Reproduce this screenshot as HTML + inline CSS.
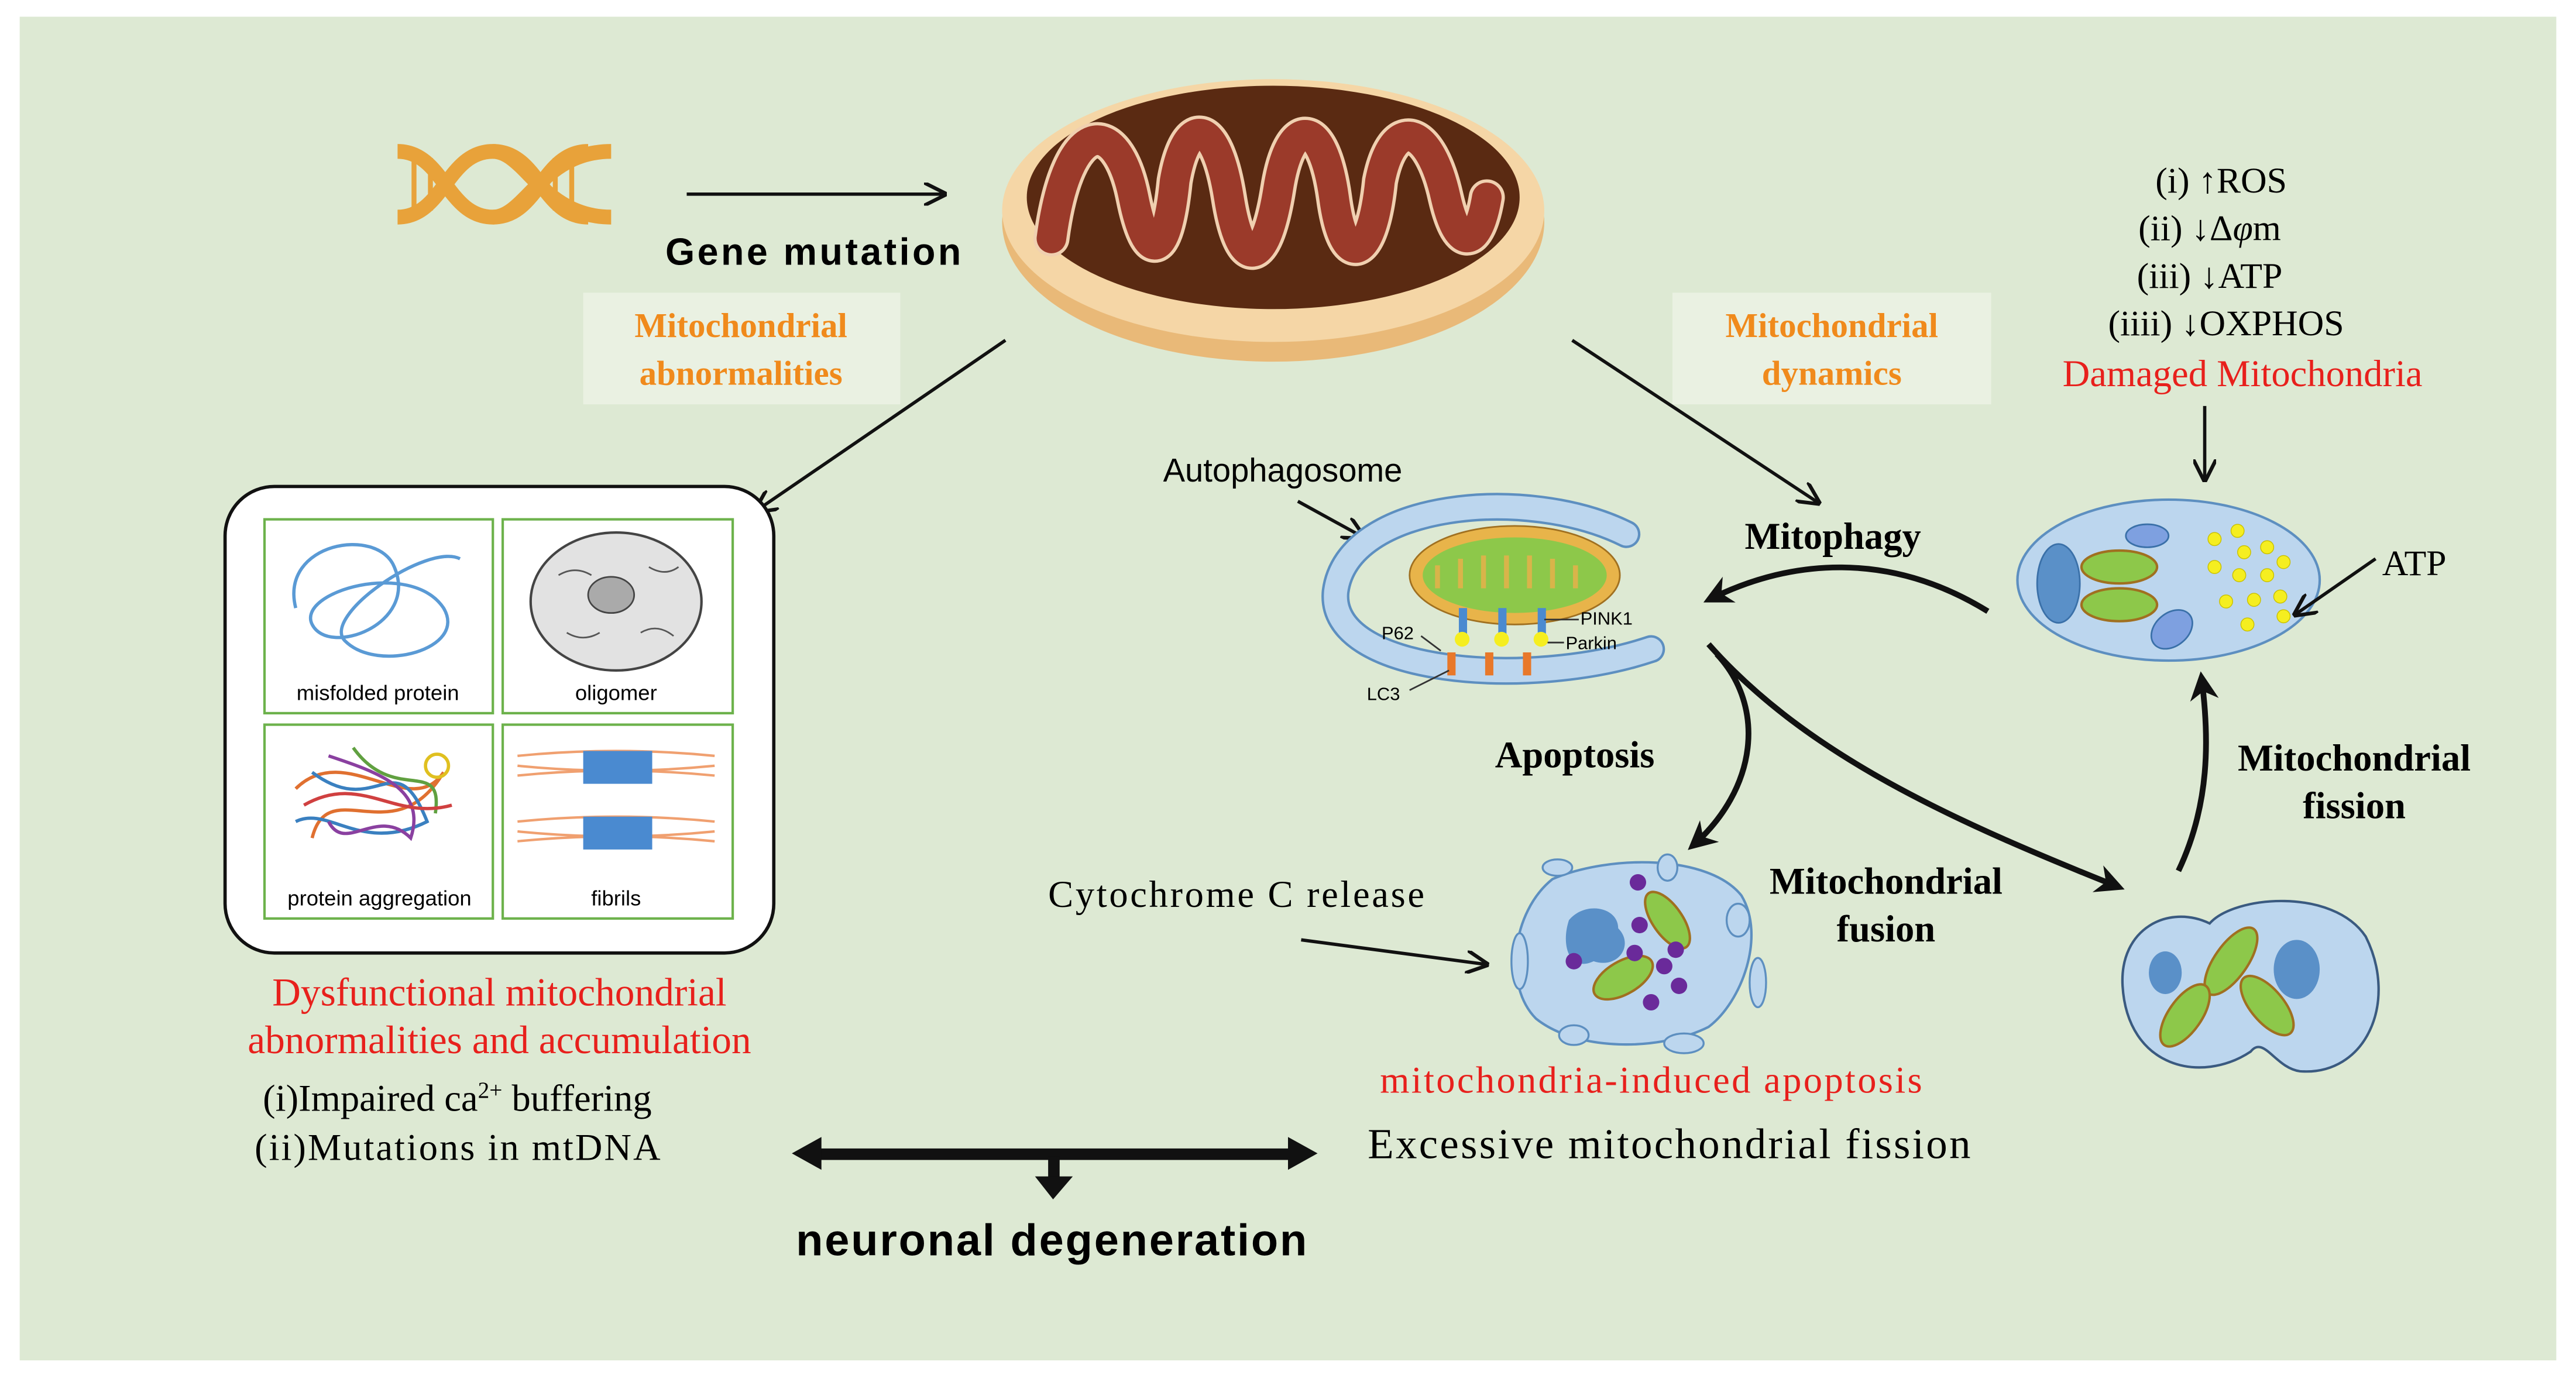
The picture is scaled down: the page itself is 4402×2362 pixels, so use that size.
<!DOCTYPE html>
<html><head><meta charset="utf-8"><style>
html,body{margin:0;padding:0;background:#fff;}
svg{display:block;}
.b{font-family:"Liberation Serif",serif;font-weight:bold;}
.s{font-family:"Liberation Serif",serif;}
.a{font-family:"Liberation Sans",sans-serif;}
</style></head><body>
<svg width="4402" height="2362" viewBox="0 0 1568 841" xmlns="http://www.w3.org/2000/svg">
<defs>
<marker id="ar" viewBox="0 0 10 10" refX="9" refY="5" markerWidth="7" markerHeight="7" orient="auto-start-reverse"><path d="M0,0 L10,5 L0,10" fill="none" stroke="#111" stroke-width="1.6"/></marker>
<marker id="af" viewBox="0 0 10 10" refX="8" refY="5" markerWidth="5" markerHeight="5" orient="auto"><path d="M0,0 L10,5 L0,10 L3,5z" fill="#111"/></marker>
</defs>
<rect width="1568" height="841" fill="#fff"/>
<rect x="12" y="10" width="1544" height="818" fill="#dde9d3"/>

<!-- DNA -->
<g stroke="#e8a23a" stroke-width="9" fill="none">
<path d="M242,92 C270,92 272,132 300,132 C328,132 330,92 358,92"/>
<path d="M242,132 C270,132 272,92 300,92 C328,92 330,132 358,132"/>
<path d="M300,92 C320,92 330,132 372,132 M300,132 C320,132 330,92 372,92"/>
</g>
<g stroke="#e8a23a" stroke-width="3"><line x1="252" y1="98" x2="252" y2="126"/><line x1="262" y1="96" x2="262" y2="128"/><line x1="338" y1="96" x2="338" y2="128"/><line x1="348" y1="98" x2="348" y2="126"/></g>
<line x1="418" y1="118" x2="575" y2="118" stroke="#111" stroke-width="2" marker-end="url(#ar)"/>
<text x="405" y="161" class="a" font-size="23" font-weight="bold" textLength="180">Gene mutation</text>

<!-- Big mitochondrion -->
<ellipse cx="775" cy="135" rx="165" ry="85" fill="#e9b978"/>
<ellipse cx="775" cy="128" rx="165" ry="80" fill="#f5d6a6"/>
<ellipse cx="775" cy="120" rx="150" ry="68" fill="#5a2a12"/>
<path d="M640,145 C650,70 680,70 690,120 C698,160 710,160 715,110 C722,70 740,70 748,120 C755,165 770,165 778,115 C785,70 805,70 812,120 C818,165 835,160 840,110 C848,70 870,75 880,120 C888,155 900,150 905,120" fill="none" stroke="#f0d0b0" stroke-width="22" stroke-linecap="round"/>
<path d="M640,145 C650,70 680,70 690,120 C698,160 710,160 715,110 C722,70 740,70 748,120 C755,165 770,165 778,115 C785,70 805,70 812,120 C818,165 835,160 840,110 C848,70 870,75 880,120 C888,155 900,150 905,120" fill="none" stroke="#9b3a2a" stroke-width="18" stroke-linecap="round"/>

<!-- Label boxes -->
<rect x="355" y="178" width="193" height="68" fill="#eaf1e2"/>
<text x="451" y="205" class="b" font-size="21" fill="#f08a1c" text-anchor="middle">Mitochondrial</text>
<text x="451" y="234" class="b" font-size="21" fill="#f08a1c" text-anchor="middle">abnormalities</text>
<rect x="1018" y="178" width="194" height="68" fill="#eaf1e2"/>
<text x="1115" y="205" class="b" font-size="21" fill="#f08a1c" text-anchor="middle">Mitochondrial</text>
<text x="1115" y="234" class="b" font-size="21" fill="#f08a1c" text-anchor="middle">dynamics</text>

<line x1="612" y1="207" x2="460" y2="311" stroke="#111" stroke-width="2" marker-end="url(#ar)"/>
<line x1="957" y1="207" x2="1107" y2="306" stroke="#111" stroke-width="2" marker-end="url(#ar)"/>

<!-- right list -->
<g class="s" font-size="22" text-anchor="middle">
<text x="1352" y="117">(i) ↑ROS</text>
<text x="1345" y="146">(ii) ↓Δ<tspan font-style="italic">φ</tspan>m</text>
<text x="1345" y="175">(iii) ↓ATP</text>
<text x="1355" y="204">(iiii) ↓OXPHOS</text>
<text x="1365" y="235" fill="#e8201c" font-size="23">Damaged Mitochondria</text>
</g>
<line x1="1342" y1="247" x2="1342" y2="292" stroke="#111" stroke-width="2" marker-end="url(#ar)"/>

<!-- Left box -->
<rect x="137" y="296" width="334" height="284" rx="30" fill="#fff" stroke="#111" stroke-width="2"/>
<g fill="none" stroke="#6db24c" stroke-width="1.5">
<rect x="161" y="316" width="139" height="118"/><rect x="306" y="316" width="140" height="118"/>
<rect x="161" y="441" width="139" height="118"/><rect x="306" y="441" width="140" height="118"/>
</g>
<path d="M180,370 C170,330 230,320 240,345 C255,380 200,400 190,380 C180,360 250,340 270,370 C285,395 230,410 210,390 C195,375 260,330 280,340" fill="none" stroke="#5a9ad5" stroke-width="2"/>
<ellipse cx="375" cy="366" rx="52" ry="42" fill="#e2e2e2" stroke="#444" stroke-width="1.5"/>
<ellipse cx="372" cy="362" rx="14" ry="11" fill="#aaa" stroke="#444"/>
<g fill="none" stroke="#555" stroke-width="1"><path d="M340,350 q10,-6 20,0"/><path d="M395,345 q10,6 18,0"/><path d="M345,385 q10,6 20,0"/><path d="M390,385 q10,-6 20,2"/></g>
<g fill="none" stroke-width="2">
<path d="M180,480 C210,450 250,500 270,470 C240,520 200,470 190,510" stroke="#e07030"/>
<path d="M190,470 C230,500 240,450 260,500 C220,520 200,490 180,500" stroke="#3a80c0"/>
<path d="M200,460 C230,470 260,480 250,510 C230,490 210,520 200,500" stroke="#8a40a0"/>
<path d="M215,455 C240,490 270,460 265,495" stroke="#60a040"/>
<path d="M185,490 C220,470 240,500 275,490" stroke="#d04040"/>
<circle cx="266" cy="466" r="7" stroke="#e0c020"/>
</g>
<g stroke="#f0a070" stroke-width="1.5" fill="none">
<path d="M315,460 q60,-6 120,0"/><path d="M315,466 q60,6 120,0"/><path d="M315,472 q60,-6 120,0"/>
<path d="M315,500 q60,-6 120,0"/><path d="M315,506 q60,6 120,0"/><path d="M315,512 q60,-6 120,0"/>
</g>
<rect x="355" y="457" width="42" height="20" fill="#4a8ad0"/><rect x="355" y="497" width="42" height="20" fill="#4a8ad0"/>
<g class="a" font-size="13" text-anchor="middle">
<text x="230" y="426">misfolded protein</text><text x="375" y="426">oligomer</text>
<text x="231" y="551">protein aggregation</text><text x="375" y="551">fibrils</text>
</g>

<text x="304" y="612" class="s" font-size="24" fill="#e8201c" text-anchor="middle">Dysfunctional mitochondrial</text>
<text x="304" y="641" class="s" font-size="24" fill="#e8201c" text-anchor="middle">abnormalities and accumulation</text>
<text x="160" y="676" class="s" font-size="23">(i)Impaired ca<tspan font-size="14" dy="-8">2+</tspan><tspan dy="8"> buffering</tspan></text>
<text x="155" y="706" class="s" font-size="23" textLength="247">(ii)Mutations in mtDNA</text>

<!-- double arrow -->
<rect x="496" y="699" width="292" height="7" fill="#111"/>
<path d="M482,702 L500,692 L500,712z M802,702 L784,692 L784,712z" fill="#111"/>
<rect x="638" y="704" width="7" height="16" fill="#111"/>
<path d="M630,716 L653,716 L641,730z" fill="#111"/>
<text x="640" y="764" class="a" font-size="27" font-weight="bold" text-anchor="middle" textLength="311">neuronal degeneration</text>

<!-- autophagosome -->
<text x="708" y="293" class="a" font-size="20">Autophagosome</text>
<line x1="790" y1="305" x2="830" y2="327" stroke="#111" stroke-width="2" marker-end="url(#ar)"/>
<path d="M990,325 C930,295 820,305 813,360 C808,410 930,420 1005,395" fill="none" stroke="#5d8fc0" stroke-width="17" stroke-linecap="round"/>
<path d="M990,325 C930,295 820,305 813,360 C808,410 930,420 1005,395" fill="none" stroke="#bcd6ee" stroke-width="14" stroke-linecap="round"/>
<ellipse cx="922" cy="350" rx="64" ry="30" fill="#e8b44a" stroke="#a07020"/>
<ellipse cx="922" cy="350" rx="56" ry="23" fill="#8dc84a"/>
<path d="M875,358 v-14 m14,14 v-18 m14,18 v-20 m14,20 v-20 m14,20 v-20 m14,20 v-18 m14,18 v-14" stroke="#d9b44a" stroke-width="3"/>
<g fill="#4a8ad0"><rect x="888" y="370" width="5" height="16"/><rect x="912" y="370" width="5" height="16"/><rect x="936" y="370" width="5" height="16"/></g>
<g fill="#f5ee20"><circle cx="890" cy="389" r="4.5"/><circle cx="914" cy="389" r="4.5"/><circle cx="938" cy="389" r="4.5"/></g>
<g fill="#e8782a"><rect x="881" y="397" width="5" height="14"/><rect x="904" y="397" width="5" height="14"/><rect x="927" y="397" width="5" height="14"/></g>
<g class="a" font-size="11"><text x="962" y="380">PINK1</text><text x="953" y="395">Parkin</text><text x="841" y="389">P62</text><text x="832" y="426">LC3</text></g>
<g stroke="#333" stroke-width="1"><line x1="940" y1="377" x2="961" y2="377"/><line x1="942" y1="391" x2="952" y2="391"/><line x1="865" y1="387" x2="877" y2="396"/><line x1="858" y1="420" x2="882" y2="408"/></g>

<text x="1062" y="334" class="b" font-size="23">Mitophagy</text>
<path d="M1210,372 C1150,335 1090,340 1040,365" fill="none" stroke="#111" stroke-width="3.5" marker-end="url(#af)"/>

<!-- damaged cell -->
<ellipse cx="1320" cy="353" rx="92" ry="49" fill="#bcd6ee" stroke="#5d8fc0" stroke-width="1.5"/>
<ellipse cx="1253" cy="355" rx="13" ry="24" fill="#5a90c8" stroke="#3a70a8"/>
<ellipse cx="1290" cy="345" rx="23" ry="10" fill="#8dc84a" stroke="#a07020" stroke-width="1.5"/>
<ellipse cx="1290" cy="368" rx="23" ry="10" fill="#8dc84a" stroke="#a07020" stroke-width="1.5"/>
<ellipse cx="1307" cy="326" rx="13" ry="7" fill="#7ea0e0" stroke="#3a70a8"/>
<ellipse cx="1322" cy="383" rx="14" ry="10" transform="rotate(-40 1322 383)" fill="#7ea0e0" stroke="#3a70a8"/>
<g fill="#f5ee20" stroke="#c9c000" stroke-width="0.5">
<circle cx="1348" cy="328" r="4"/><circle cx="1362" cy="323" r="4"/><circle cx="1366" cy="336" r="4"/><circle cx="1380" cy="333" r="4"/>
<circle cx="1348" cy="345" r="4"/><circle cx="1363" cy="350" r="4"/><circle cx="1380" cy="350" r="4"/><circle cx="1390" cy="342" r="4"/>
<circle cx="1372" cy="365" r="4"/><circle cx="1388" cy="363" r="4"/><circle cx="1355" cy="366" r="4"/><circle cx="1368" cy="380" r="4"/><circle cx="1390" cy="375" r="4"/>
</g>
<text x="1450" y="350" class="s" font-size="22">ATP</text>
<line x1="1446" y1="340" x2="1397" y2="374" stroke="#111" stroke-width="2" marker-end="url(#ar)"/>

<text x="910" y="467" class="b" font-size="23">Apoptosis</text>
<path d="M1045,398 C1075,430 1070,480 1030,515" fill="none" stroke="#111" stroke-width="3.5" marker-end="url(#af)"/>
<path d="M1040,392 C1100,460 1190,500 1290,540" fill="none" stroke="#111" stroke-width="3.5" marker-end="url(#af)"/>
<text x="1433" y="469" class="b" font-size="23" text-anchor="middle">Mitochondrial</text>
<text x="1433" y="498" class="b" font-size="23" text-anchor="middle">fission</text>
<path d="M1326,530 C1345,490 1345,450 1340,412" fill="none" stroke="#111" stroke-width="3.5" marker-end="url(#af)"/>

<!-- apoptotic cell -->
<text x="638" y="552" class="s" font-size="23" textLength="229">Cytochrome C release</text>
<line x1="792" y1="572" x2="905" y2="587" stroke="#111" stroke-width="2" marker-end="url(#ar)"/>
<path d="M945,535 C980,520 1040,520 1060,545 C1075,570 1060,610 1040,625 C1010,640 960,640 935,620 C915,600 920,555 945,535z" fill="#bcd6ee" stroke="#5d8fc0" stroke-width="1.5"/>
<g fill="#bcd6ee" stroke="#5d8fc0" stroke-width="1.2"><ellipse cx="925" cy="585" rx="5" ry="17"/><ellipse cx="1070" cy="598" rx="5" ry="15"/><ellipse cx="948" cy="528" rx="9" ry="5"/><ellipse cx="1015" cy="528" rx="6" ry="8"/><ellipse cx="1058" cy="560" rx="7" ry="10"/><ellipse cx="958" cy="630" rx="9" ry="6"/><ellipse cx="1025" cy="635" rx="12" ry="6"/></g>
<path d="M955,560 C965,548 985,552 985,565 C995,575 985,590 970,585 C955,592 950,575 955,560z" fill="#5a90c8"/>
<ellipse cx="1015" cy="560" rx="20" ry="9" transform="rotate(55 1015 560)" fill="#8dc84a" stroke="#a07020" stroke-width="1.5"/>
<ellipse cx="988" cy="595" rx="20" ry="10" transform="rotate(-30 988 595)" fill="#8dc84a" stroke="#a07020" stroke-width="1.5"/>
<g fill="#6a2a9a"><circle cx="997" cy="537" r="5"/><circle cx="998" cy="563" r="5"/><circle cx="1020" cy="578" r="5"/><circle cx="1013" cy="588" r="5"/><circle cx="995" cy="580" r="5"/><circle cx="958" cy="585" r="5"/><circle cx="1022" cy="600" r="5"/><circle cx="1005" cy="610" r="5"/></g>
<text x="1148" y="544" class="b" font-size="23" text-anchor="middle">Mitochondrial</text>
<text x="1148" y="573" class="b" font-size="23" text-anchor="middle">fusion</text>

<!-- two-lobed cell -->
<path d="M1370,640 C1340,660 1295,650 1292,600 C1290,565 1320,550 1345,562 C1360,545 1420,540 1440,570 C1460,610 1440,655 1400,652 C1385,650 1378,630 1370,640z" fill="#bcd6ee" stroke="#3a5a80" stroke-width="1.5"/>
<ellipse cx="1318" cy="592" rx="10" ry="13" fill="#5a90c8"/>
<ellipse cx="1398" cy="590" rx="14" ry="18" fill="#5a90c8"/>
<ellipse cx="1358" cy="585" rx="24" ry="10" transform="rotate(-55 1358 585)" fill="#8dc84a" stroke="#a07020" stroke-width="1.5"/>
<ellipse cx="1330" cy="618" rx="22" ry="10" transform="rotate(-55 1330 618)" fill="#8dc84a" stroke="#a07020" stroke-width="1.5"/>
<ellipse cx="1380" cy="612" rx="22" ry="10" transform="rotate(50 1380 612)" fill="#8dc84a" stroke="#a07020" stroke-width="1.5"/>

<text x="1005" y="665" class="s" font-size="23" fill="#e8201c" text-anchor="middle" textLength="330">mitochondria-induced apoptosis</text>
<text x="1016" y="705" class="s" font-size="26" text-anchor="middle" textLength="367">Excessive mitochondrial fission</text>
</svg>
</body></html>
